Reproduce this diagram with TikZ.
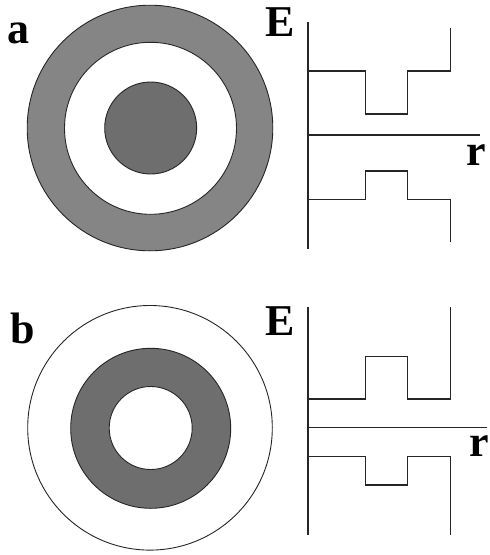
\documentclass[tikz,border=0pt]{standalone}
\usepackage{fontspec}
\setmainfont{Liberation Serif}
\begin{document}
\begin{tikzpicture}[x=1pt,y=-1pt,
  lbl/.style={inner sep=0pt,anchor=base west,font=\fontsize{44}{44}\selectfont\bfseries},
  edge/.style={line width=1.1pt,draw=black!85},
  ring/.style={line width=0.9pt,draw=black!85}]
\useasboundingbox (0,0) rectangle (490,555);
\definecolor{lightg}{HTML}{858585}
\definecolor{darkg}{HTML}{6E6E6E}
% panel a circles
\filldraw[ring,fill=lightg] (150,128) circle (122.8);
\filldraw[ring,fill=white] (150.5,128.3) circle (86);
\filldraw[ring,fill=darkg] (150.7,128) circle (46);
% panel b circles
\filldraw[ring,fill=white] (150,427.8) circle (122.3);
\filldraw[ring,fill=darkg] (150.7,428.3) circle (80);
\filldraw[ring,fill=white] (150.7,428) circle (41.5);
% labels
\node[lbl] (la) at (7,43) {a};
\node[lbl] (Ea) at (265.5,36) {E};
\node[lbl] (ra) at (466,165) {r};
\node[lbl] (lb) at (10.5,343) {b};
\node[lbl] (Eb) at (265.5,335) {E};
\node[lbl] (rb) at (469,456.7) {r};
% panel a energy diagram
\draw[edge] (308,21.7) -- (308,249);
\draw[edge] (308,135) -- (480,135);
\draw[edge] (308,71) -- (365.3,71) -- (365.3,114) -- (407.7,114) -- (407.7,71) -- (450.7,71) -- (450.7,28.3);
\draw[edge] (308,199.3) -- (365.3,199.3) -- (365.3,171) -- (407.7,171) -- (407.7,199.3) -- (450.7,199.3) -- (450.7,242.3);
% panel b energy diagram
\draw[edge] (308,306.7) -- (308,535);
\draw[edge] (308,427.7) -- (486.7,427.7);
\draw[edge] (308,399) -- (365.3,399) -- (365.3,356.7) -- (407.7,356.7) -- (407.7,399) -- (450.7,399) -- (450.7,306.7);
\draw[edge] (308,456.7) -- (365.3,456.7) -- (365.3,485) -- (407.7,485) -- (407.7,456.7) -- (450.7,456.7) -- (450.7,535);
\end{tikzpicture}
\end{document}
